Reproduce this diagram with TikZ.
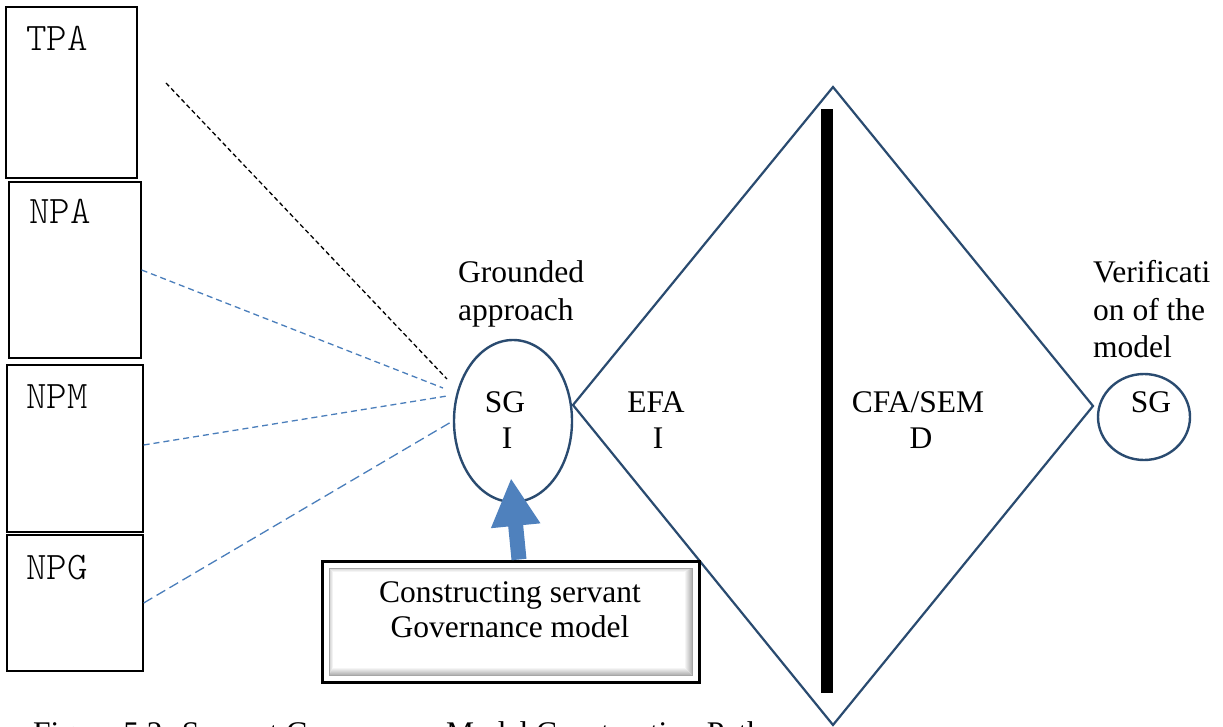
\documentclass[tikz,border=0pt]{standalone}
\usepackage{fontspec}
\setmainfont{Liberation Serif}
\newfontfamily\lightmono{lmmonolt10-regular.otf}
\usetikzlibrary{shapes.geometric,arrows.meta}

\definecolor{navy}{HTML}{2A4B70}
\definecolor{linkblue}{HTML}{4A7EBB}
\definecolor{fatblue}{HTML}{4F81BD}

\tikzset{
  srcbox/.style={draw=black, line width=1.3pt, minimum width=#1, inner sep=0pt},
  monolbl/.style={anchor=base west, inner sep=0pt, font=\lightmono\fontsize{39}{40}\selectfont},
  serif/.style={inner sep=0pt, font=\fontsize{31.5}{36}\selectfont},
  ring/.style={draw=navy, line width=2.4pt, ellipse, inner sep=0pt},
  blackdash/.style={draw=black, line width=1.3pt, dash pattern=on 4.5pt off 3pt},
  bluedash/.style={draw=linkblue, line width=1.3pt, dash pattern=on 6pt off 4pt},
  bluelong/.style={draw=linkblue, line width=1.3pt, dash pattern=on 10pt off 5pt},
}

\begin{document}
\begin{tikzpicture}[x=1pt,y=-1pt]
  \clip (0,0) rectangle (1223,727);
  \fill[white] (0,0) rectangle (1223,727);

  % the four source boxes on the left
  \node[srcbox=131pt, minimum height=171pt] (tpa) at (71.5,92.5) {};
  \node[srcbox=132pt, minimum height=176pt] (npa) at (75,270) {};
  \node[srcbox=136pt, minimum height=167pt] (npm) at (75,448.5) {};
  \node[srcbox=136pt, minimum height=136pt] (npg) at (75,603) {};
  \node[monolbl] (tpat) at (26,51) {TPA};
  \node[monolbl] (npat) at (29,224) {NPA};
  \node[monolbl] (npmt) at (26,408) {NPM};
  \node[monolbl] (npgt) at (26,579) {NPG};

  % grounded-approach ellipse
  \node[ring, minimum width=118pt, minimum height=162pt] (sgi) at (513,421) {};
  \node[serif, anchor=base] (sgt) at (505,412) {SG};
  \node[serif, anchor=base] (sgit) at (507,448) {I};
  \node[serif, anchor=base west] (gr1) at (458,283) {Grounded};
  \node[serif, anchor=base west] (gr2) at (458,320) {approach};

  % dashed links into the ellipse
  \coordinate (tpafrom) at (166,83);
  \coordinate (tpato) at (447,379);
  \coordinate (npato) at (443,388);
  \coordinate (npmto) at (447,396);
  \draw[blackdash] (tpafrom) -- (tpato);
  \draw[bluedash] (npa.east) -- (npato);
  \draw[bluedash] ([yshift=3.5pt]npm.east) -- (npmto);
  \draw[bluelong] (npg.east) -- (sgi.west);

  % EFA / CFA diamond split by the thick bar
  \coordinate (dl) at (573,405);
  \coordinate (dt) at (833,87);
  \coordinate (dr) at (1093,406);
  \coordinate (db) at (833,725);
  \draw[navy, line width=2.2pt, line join=miter] (dl) -- (dt) -- (dr) -- (db) -- cycle;
  \fill[black] (821,109) rectangle (833,693);
  \node[serif, anchor=base] (efa) at (656,412) {EFA};
  \node[serif, anchor=base] (efai) at (658,448) {I};
  \node[serif, anchor=base] (cfa) at (918,412) {CFA/SEM};
  \node[serif, anchor=base] (cfad) at (921,448) {D};

  % verification circle
  \node[ring, minimum width=92pt, minimum height=86pt] (sgv) at (1144,417) {};
  \node[serif, anchor=base] (sgvt) at (1151,412) {SG};
  \node[serif, anchor=base west] (ver1) at (1093,283) {Verificati};
  \node[serif, anchor=base west] (ver2) at (1093,320) {on of the};
  \node[serif, anchor=base west] (ver3) at (1093,357) {model};

  % bevelled model box
  \node[draw=black, line width=3pt, minimum width=377pt, minimum height=121pt, inner sep=0pt] (cbox) at (510.5,621.5) {};
  \shade[top color=gray!35, bottom color=white] (329,568) -- (692,568) -- (684,572) -- (333,572) -- cycle;
  \shade[left color=gray!40, right color=white] (329,568) -- (333,572) -- (333,667) -- (329,675) -- cycle;
  \shade[left color=white, right color=gray!65] (692,568) -- (692,675) -- (684,667) -- (684,572) -- cycle;
  \shade[top color=white, bottom color=gray!65] (329,675) -- (692,675) -- (684,667) -- (333,667) -- cycle;
  \draw[gray!70, line width=0.5pt] (329,568) rectangle (692,675);
  \node[serif, anchor=base] (cb1) at (510,602) {Constructing servant};
  \node[serif, anchor=base] (cb2) at (510,637) {Governance model};

  % thick arrow from the box to the ellipse
  \coordinate (arrtip) at (511,478);
  \draw[fatblue, line width=15pt, -{Triangle[width=46pt, length=48pt]}] ([xshift=8.5pt]cbox.north) -- (arrtip);

  % caption (runs off the bottom edge)
  \node[serif, anchor=base west] (cap) at (33,743) {Figure 5.2: Servant Governance Model Construction Path};
\end{tikzpicture}
\end{document}
